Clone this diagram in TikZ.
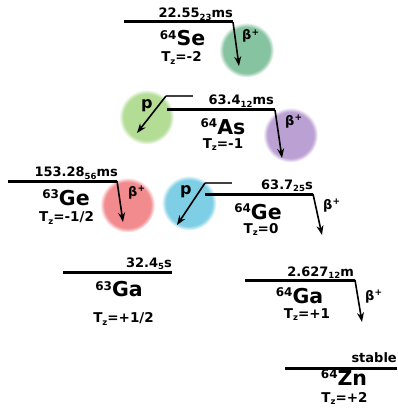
\documentclass[tikz,border=0pt]{standalone}
\usepackage{fontspec}
\setmainfont{DejaVu Sans}
\usetikzlibrary{arrows.meta}

\definecolor{segreen}{HTML}{86C3A0}
\definecolor{pgreen}{HTML}{B3DC95}
\definecolor{aspurple}{HTML}{BBA0D3}
\definecolor{gered}{HTML}{F28B8E}
\definecolor{geblue}{HTML}{7ECFE6}

% soft-edged discs: solid core fading into the white page at the rim
\pgfdeclareradialshading{segreenshade}{\pgfpointorigin}{color(0bp)=(segreen); color(21bp)=(segreen); color(25bp)=(white); color(50bp)=(white)}
\pgfdeclareradialshading{pgreenshade}{\pgfpointorigin}{color(0bp)=(pgreen); color(21bp)=(pgreen); color(25bp)=(white); color(50bp)=(white)}
\pgfdeclareradialshading{aspurpleshade}{\pgfpointorigin}{color(0bp)=(aspurple); color(21bp)=(aspurple); color(25bp)=(white); color(50bp)=(white)}
\pgfdeclareradialshading{geredshade}{\pgfpointorigin}{color(0bp)=(gered); color(21bp)=(gered); color(25bp)=(white); color(50bp)=(white)}
\pgfdeclareradialshading{geblueshade}{\pgfpointorigin}{color(0bp)=(geblue); color(21bp)=(geblue); color(25bp)=(white); color(50bp)=(white)}

% lowered index (half-life error, isospin z) and raised index (mass number, charge)
\newcommand\lowidx[1]{\raisebox{-2.8pt}{\fontsize{8.5}{8.5}\selectfont #1}}
\newcommand\massno[1]{\raisebox{6.2pt}{\fontsize{12}{12}\selectfont #1}}
\newcommand\chg{\raisebox{4.8pt}{\fontsize{9}{9}\selectfont +}}

\begin{document}
\begin{tikzpicture}[x=1pt,y=-1pt,
  level/.style={line width=3pt},
  feed/.style={line width=1.1pt, draw=black!75},
  decay/.style={line width=1.6pt, -{Stealth[length=9.5pt,width=7pt]}},
  blob/.style={circle, inner sep=0pt, minimum size=55pt, shade, shading=#1},
  halflife/.style={anchor=base east, inner sep=0pt, font=\bfseries\fontsize{13}{13}\selectfont},
  nuc/.style={anchor=base, inner sep=0pt, font=\bfseries\fontsize{20.5}{20.5}\selectfont},
  tz/.style={anchor=base, inner sep=0pt, font=\bfseries\fontsize{13.5}{13.5}\selectfont},
  mode/.style={anchor=base west, inner sep=0pt, font=\bfseries\fontsize{13}{13}\selectfont},
  pmode/.style={anchor=base west, inner sep=0pt, font=\bfseries\fontsize{16}{16}\selectfont},
]
\useasboundingbox (0,0) rectangle (397,409);

% decay-mode discs
\node[blob=segreenshade]  (se-bb) at (246.5,50) {};
\node[blob=pgreenshade]   (as-pp) at (146.5,117) {};
\node[blob=aspurpleshade] (as-bb) at (290.5,135) {};
\node[blob=geredshade]    (ge3-bb) at (127.5,205) {};
\node[blob=geblueshade]   (ge4-pp) at (189,203) {};

% level coordinates
\coordinate (se-l) at (124,22);   \coordinate (se-r) at (233,22);
\coordinate (as-l) at (167,110);  \coordinate (as-r) at (275,110);
\coordinate (ge3-l) at (8,181);   \coordinate (ge3-r) at (117,181);
\coordinate (ge4-l) at (205,194); \coordinate (ge4-r) at (313,194);
\coordinate (ga3-l) at (63,272);  \coordinate (ga3-r) at (172,272);
\coordinate (ga4-l) at (245,280); \coordinate (ga4-r) at (355,280);
\coordinate (zn-l) at (285,368);  \coordinate (zn-r) at (397,368);

% proton-emitting states
\coordinate (as-pl) at (166,96);  \coordinate (as-pr) at (193,96);
\coordinate (ge4-pl) at (205,183); \coordinate (ge4-pr) at (232,183);

% arrow tips
\coordinate (se-t) at (239,66);
\coordinate (as-t) at (282,158);
\coordinate (as-pt) at (137,133);
\coordinate (ge3-t) at (123,222);
\coordinate (ge4-t) at (322,235);
\coordinate (ge4-pt) at (177,225);
\coordinate (ga4-t) at (362,322);

% levels
\foreach \n in {se,as,ge3,ge4,ga3,ga4,zn}
  \draw[level] (\n-l) -- (\n-r);
\draw[feed] (as-pl) -- (as-pr);
\draw[feed] (ge4-pl) -- (ge4-pr);

% decays
\draw[decay] (se-r) -- (se-t);
\draw[decay] (as-r) -- (as-t);
\draw[decay] (as-pl) -- (as-pt);
\draw[decay] (ge3-r) -- (ge3-t);
\draw[decay] (ge4-r) -- (ge4-t);
\draw[decay] (ge4-pl) -- (ge4-pt);
\draw[decay] (ga4-r) -- (ga4-t);

% 64Se
\node[halflife] (se-hl) at (233,18) {22.55\lowidx{23}ms};
\node[nuc] (se-nm) at (182.5,46) {\massno{64}Se};
\node[tz] (se-tz) at (181.5,61.5) {T\lowidx{z}=-2};
\node[mode] (se-md) at (242,40) {β\chg};

% 64As
\node[halflife] (as-hl) at (274,105) {63.4\lowidx{12}ms};
\node[nuc] (as-nm) at (223,134) {\massno{64}As};
\node[tz] (as-tz) at (223,148) {T\lowidx{z}=-1};
\node[mode] (as-md) at (285,125) {β\chg};
\node[pmode] (as-pm) at (141,108) {p};

% 63Ge
\node[halflife] (ge3-hl) at (118,176.5) {153.28\lowidx{56}ms};
\node[nuc] (ge3-nm) at (66,205) {\massno{63}Ge};
\node[tz] (ge3-tz) at (66.5,221.5) {T\lowidx{z}=-1/2};
\node[mode] (ge3-md) at (128,196) {β\chg};

% 64Ge
\node[halflife] (ge4-hl) at (313,189) {63.7\lowidx{25}s};
\node[nuc] (ge4-nm) at (258,219) {\massno{64}Ge};
\node[tz] (ge4-tz) at (261,233) {T\lowidx{z}=0};
\node[mode] (ge4-md) at (323,209) {β\chg};
\node[pmode] (ge4-pm) at (180,194) {p};

% 63Ga
\node[halflife] (ga3-hl) at (172,267) {32.4\lowidx{5}s};
\node[nuc] (ga3-nm) at (119,296.5) {\massno{63}Ga};
\node[tz] (ga3-tz) at (123.5,322.5) {T\lowidx{z}=+1/2};

% 64Ga
\node[halflife] (ga4-hl) at (354,276) {2.627\lowidx{12}m};
\node[nuc] (ga4-nm) at (299.5,303) {\massno{64}Ga};
\node[tz] (ga4-tz) at (307,318) {T\lowidx{z}=+1};
\node[mode] (ga4-md) at (365,300) {β\chg};

% 64Zn
\node[halflife] (zn-hl) at (397,362) {stable};
\node[nuc] (zn-nm) at (344,385) {\massno{64}Zn};
\node[tz] (zn-tz) at (344.5,402) {T\lowidx{z}=+2};
\end{tikzpicture}
\end{document}
